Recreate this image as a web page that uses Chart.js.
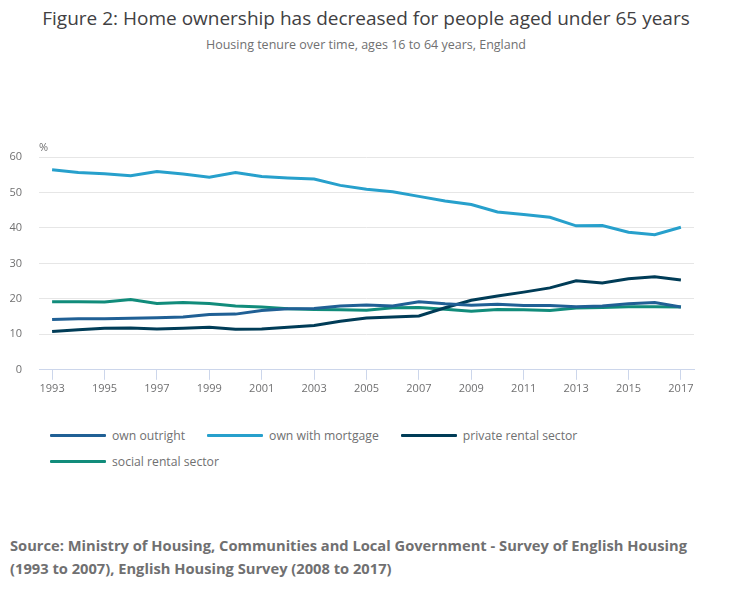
<!DOCTYPE html>
<html>
<head>
<meta charset="utf-8">
<script src="https://cdn.jsdelivr.net/npm/chart.js@4.4.0/dist/chart.umd.min.js"></script>
<style>
  html, body { margin: 0; padding: 0; background: #fff; width: 732px; height: 600px; overflow: hidden; font-family: "Open Sans", sans-serif; }
  #title { position: absolute; left: 0; top: 5px; width: 732px; text-align: center; font-size: 19px; color: #414042; line-height: 26px; }
  #subtitle { position: absolute; left: 0; top: 37px; width: 732px; text-align: center; font-size: 12.5px; color: #707071; line-height: 16px; }
  #wrap { position: absolute; left: 0; top: 0; width: 732px; height: 400px; }
  #legend { position: absolute; left: 50px; top: 426px; width: 640px; display: flex; flex-wrap: wrap; column-gap: 22px; row-gap: 8px; }
  .item { display: flex; align-items: center; height: 18px; font-size: 12.2px; color: #707071; }
  .swatch { width: 56px; height: 3px; margin-right: 6px; border-radius: 1px; }
  #source { position: absolute; left: 10px; top: 534px; width: 705px; font-size: 14.7px; font-weight: bold; color: #707071; line-height: 23px; }
</style>
</head>
<body>
<div id="title">Figure 2: Home ownership has decreased for people aged under 65 years</div>
<div id="subtitle">Housing tenure over time, ages 16 to 64 years, England</div>
<div id="wrap"><canvas id="c"></canvas></div>
<div id="legend"></div>
<div id="source">Source: Ministry of Housing, Communities and Local Government - Survey of English Housing (1993 to 2007), English Housing Survey (2008 to 2017)</div>
<script>
const years = ["1993","1994","1995","1996","1997","1998","1999","2000","2001","2002","2003","2004","2005","2006","2007","2008","2009","2010","2011","2012","2013","2014","2015","2016","2017"];
const ownOutright =    [14.2,14.4,14.4,14.5,14.7,14.9,15.6,15.7,16.7,17.2,17.3,18.0,18.3,18.0,19.2,18.6,18.2,18.5,18.1,18.1,17.8,18.0,18.6,19.0,17.7];
const ownMortgage =    [56.4,55.6,55.3,54.7,55.9,55.2,54.3,55.6,54.5,54.1,53.8,52.0,50.9,50.2,48.9,47.6,46.6,44.5,43.8,43.0,40.6,40.7,38.8,38.1,40.2];
const privateRental =  [10.8,11.3,11.7,11.8,11.5,11.7,12.0,11.4,11.5,12.0,12.5,13.7,14.6,14.9,15.2,17.5,19.6,20.8,21.9,23.1,25.1,24.5,25.7,26.2,25.3];
const socialRental =   [19.2,19.2,19.1,19.8,18.7,19.0,18.7,18.0,17.7,17.2,17.0,16.9,16.8,17.5,17.6,17.1,16.5,17.0,16.9,16.7,17.4,17.6,17.8,17.8,17.7];
const seriesNames = ["own outright","own with mortgage","private rental sector","social rental sector"];
const seriesColors = ["#206095","#27a0cc","#003c57","#118c7b"];
const yTicks = [0,10,20,30,40,50,60];

const seriesData = [ownOutright, ownMortgage, privateRental, socialRental];
const datasets = seriesNames.map((n,i)=>({
  label: n, data: seriesData[i], borderColor: seriesColors[i], backgroundColor: seriesColors[i],
  borderWidth: 3, pointRadius: 0, tension: 0, fill: false
}));

const percentPlugin = {
  id: 'percent',
  afterDraw(chart) {
    const ctx = chart.ctx;
    ctx.save();
    ctx.font = '11px "Open Sans"';
    ctx.fillStyle = '#707071';
    ctx.textAlign = 'left';
    ctx.textBaseline = 'middle';
    ctx.fillText('%', chart.chartArea.left, chart.chartArea.top - 9);
    ctx.restore();
  }
};

const chart = new Chart(document.getElementById('c'), {
  type: 'line',
  data: { labels: years, datasets },
  options: {
    responsive: true, maintainAspectRatio: false, animation: false,
    layout: { padding: { top: 157, left: 0, right: 38, bottom: 3 } },
    plugins: { legend: { display: false }, tooltip: { enabled: false } },
    scales: {
      x: {
        offset: true,
        grid: { display: true, drawOnChartArea: false, offset: false, tickLength: 10, color: '#ccd6eb', lineWidth: 1 },
        border: { display: true, color: '#ccd6eb', width: 1 },
        ticks: {
          autoSkip: false, maxRotation: 0, padding: 2, color: '#707071',
          font: { family: 'Open Sans', size: 11 },
          callback: function(v, i) { return i % 2 === 0 ? years[i] : null; }
        }
      },
      y: {
        min: 0, max: 60,
        afterBuildTicks: (ax) => { ax.ticks = yTicks.map(v => ({ value: v })); },
        afterFit: (ax) => { ax.width = 39; },
        grid: { color: '#e6e6e6', drawTicks: false, lineWidth: 1 },
        border: { display: false },
        ticks: { padding: 17, color: '#707071', font: { family: 'Open Sans', size: 11 } }
      }
    }
  },
  plugins: [percentPlugin]
});

const legend = document.getElementById('legend');
chart.data.datasets.forEach(ds => {
  const it = document.createElement('div'); it.className = 'item';
  const sw = document.createElement('div'); sw.className = 'swatch'; sw.style.background = ds.borderColor;
  const tx = document.createElement('span'); tx.textContent = ds.label;
  it.appendChild(sw); it.appendChild(tx); legend.appendChild(it);
});
</script>
</body>
</html>
